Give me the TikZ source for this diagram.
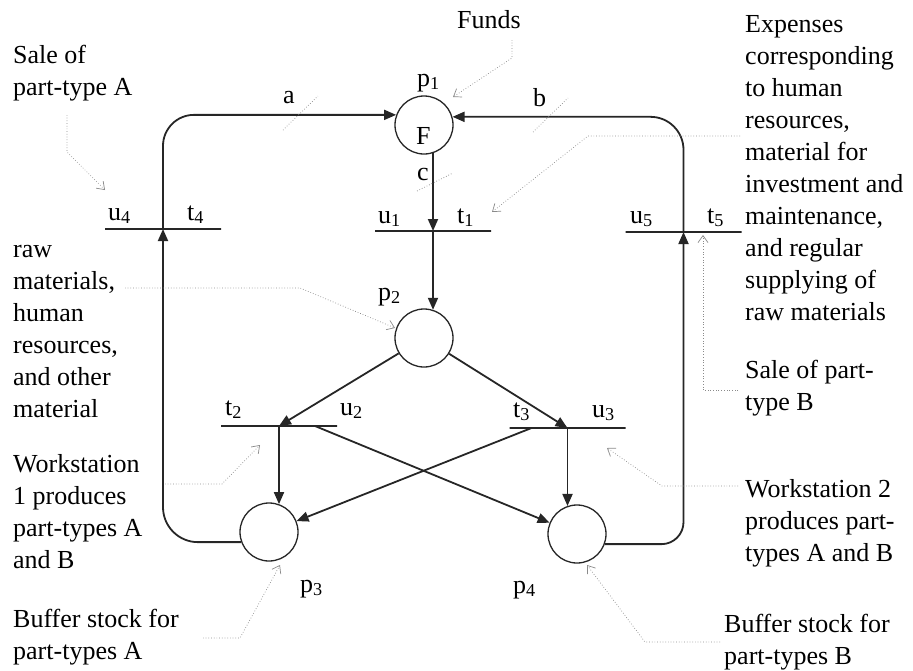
\documentclass[tikz,border=0pt]{standalone}
\usepackage{fontspec}
\setmainfont{Liberation Serif}
\usetikzlibrary{arrows.meta,calc}
\definecolor{ink}{HTML}{262626}
\definecolor{leadgray}{HTML}{8A8A8A}
\newcommand\notefont{\fontsize{26}{32}\selectfont}
\newcommand\lblfont{\fontsize{26}{30}\selectfont}
\newcommand\fl{\rule{0pt}{18pt}}
\begin{document}
\begin{tikzpicture}[x=1pt,y=-1pt,
  place/.style={circle,draw=ink,line width=1.3pt,minimum size=58pt,inner sep=0pt},
  tbar/.style={rectangle,draw=ink,line width=1.7pt,minimum width=116pt,minimum height=0pt,inner sep=0pt},
  arcline/.style={draw=ink,line width=1.8pt,-{Triangle[length=12pt,width=10pt]}},
  leader/.style={draw=leadgray,line width=0.7pt,dotted,-{Straight Barb[length=7pt,width=10pt]}},
  tick/.style={draw=leadgray,line width=0.7pt,dotted},
  lbl/.style={inner sep=0pt,anchor=base west,font=\lblfont},
  note/.style={inner sep=0pt,anchor=north west,align=left,font=\notefont}]
\useasboundingbox (0,0) rectangle (913,670);

% places
\node[place] (p1) at (424,125) {};
\node[place] (p2) at (424,338) {};
\node[place] (p3) at (269,532) {};
\node[place] (p4) at (577,534) {};

% transitions
\node[tbar] (t1) at (433,231) {};
\node[tbar] (t2) at (279,426) {};
\node[tbar] (t3) at (567.5,428) {};
\node[tbar] (t4) at (163,229) {};
\node[tbar] (t5) at (683.5,232) {};

% labels of places and transitions
\node[lbl] (lp1) at (417,86) {p\textsubscript{1}};
\node[lbl] (lF) at (416,144) {F};
\node[lbl] (lp2) at (378,300) {p\textsubscript{2}};
\node[lbl] (lp3) at (300,592) {p\textsubscript{3}};
\node[lbl] (lp4) at (513,593) {p\textsubscript{4}};
\node[lbl] (lu1) at (378,223) {u\textsubscript{1}};
\node[lbl] (lt1) at (457,223) {t\textsubscript{1}};
\node[lbl] (lt2) at (225,415) {t\textsubscript{2}};
\node[lbl] (lu2) at (340,415) {u\textsubscript{2}};
\node[lbl] (lt3) at (513,417) {t\textsubscript{3}};
\node[lbl] (lu3) at (592,417) {u\textsubscript{3}};
\node[lbl] (lu4) at (108,220) {u\textsubscript{4}};
\node[lbl] (lt4) at (187,220) {t\textsubscript{4}};
\node[lbl] (lu5) at (630,223) {u\textsubscript{5}};
\node[lbl] (lt5) at (707,223) {t\textsubscript{5}};
\node[lbl] (la) at (283,103) {a};
\node[lbl] (lb) at (533,106) {b};
\node[lbl] (lc) at (417,180) {c};

% arcs
\draw[arcline] (p1.-72 -| t1) -- (t1.center);
\draw[arcline] (t1.center) -- (p2.72 -| t1);
\draw[arcline] (p2) -- (t2.center);
\draw[arcline] (p2) -- (t3.center);
\draw[arcline] (t2.center) -- (p3.70 -| t2);
\draw[arcline] (t3.center) -- (p4.109 -| t3);
\coordinate (t2r) at ($(t2.center)+(36,0)$);
\coordinate (t3l) at ($(t3.center)+(-36,0)$);
\draw[arcline] (t2r) -- (p4);
\draw[arcline] (t3l) -- (p3);
\draw[arcline,rounded corners=31pt] (t4.center) |- (p1.160);
\draw[arcline,rounded corners=33pt] (t5.center) |- (p1.16);
\draw[arcline,rounded corners=35pt] (p3.200) -| (t4.center);
\draw[arcline,rounded corners=22pt] (p4.-20) -| (t5.center);

% weight ticks
\draw[tick] (283,130) -- (318,96);
\draw[tick] (533,132) -- (568,98);
\draw[tick] (417,191) -- (453,173);

% annotation texts
\node[note] (nFunds) at (457,10) {\fl Funds};
\node[note] (nExp) at (745,14) {\fl Expenses\\corresponding\\to human\\resources,\\material for\\investment and\\maintenance,\\and regular\\supplying of\\raw materials};
\node[note] (nSaleA) at (13,45) {\fl Sale of\\part-type A};
\node[note] (nRaw) at (13,239) {\fl raw\\materials,\\human\\resources,\\and other\\material};
\node[note] (nWS1) at (13,454) {\fl Workstation\\1 produces\\part-types A\\and B};
\node[note] (nBufA) at (13,609) {\fl Buffer stock for\\part-types A};
\node[note] (nSaleB) at (745,360) {\fl Sale of part-\\type B};
\node[note] (nWS2) at (745,479) {\fl Workstation 2\\produces part-\\types A and B};
\node[note] (nBufB) at (724,614) {\fl Buffer stock for\\part-types B};

% leaders
\coordinate (fundsTip) at (453,97);
\coordinate (expTip) at (492,212);
\coordinate (saleATip) at (105,190);
\coordinate (rawTip) at (395,328);
\coordinate (ws1Tip) at (260,445);
\coordinate (bufATip) at (280,565);
\coordinate (saleBTip) at (703,235);
\coordinate (ws2Tip) at (607,448);
\coordinate (bufBTip) at (587,565);
\draw[leader] (512,40) -- (512,58) -- (fundsTip);
\draw[leader] (740,136) -- (588,136) -- (expTip);
\draw[leader] (67,115) -- (67,152) -- (saleATip);
\draw[leader] (125,288) -- (300,288) -- (rawTip);
\draw[leader] (165,484) -- (222,484) -- (ws1Tip);
\draw[leader] (203,638) -- (240,638) -- (bufATip);
\draw[leader] (738,390) -- (703,390) -- (saleBTip);
\draw[leader] (738,486) -- (662,486) -- (ws2Tip);
\draw[leader] (720,642) -- (645,642) -- (bufBTip);
\end{tikzpicture}
\end{document}
